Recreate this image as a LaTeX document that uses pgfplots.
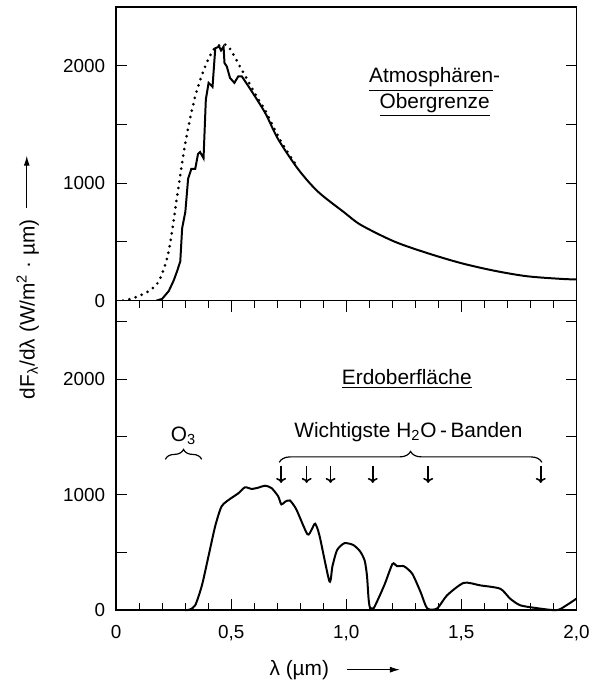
\documentclass[border=0pt]{standalone}
\usepackage{pgfplots}
\pgfplotsset{compat=1.18}
\usepackage{pgfplotstable}
\usepackage{fontspec}
\setmainfont{Liberation Sans}
\usetikzlibrary{arrows.meta,decorations.pathreplacing}

% Obergrenze, gemessen (steiler Teil)
\pgfplotstableread{
lam F
0.175 0
0.200 15
0.229 82
0.250 170
0.265 250
0.279 335
0.287 616
0.301 757
0.313 1038
0.327 1122
0.344 1122
0.356 1249
0.365 1265
0.380 1212
0.390 1713
0.402 1854
0.419 1820
0.431 2149
0.448 2163
0.456 2130
0.467 2163
0.471 2023
0.481 1994
0.495 1896
0.514 1854
0.531 1910
0.546 1910
0.575 1825
}\toasharp

% Obergrenze, glatter Auslauf
\pgfplotstableread{
lam F
0.575 1825
0.647 1601
0.704 1375
0.790 1122
0.877 928
0.992 750
1.064 644
1.208 504
1.352 405
1.496 321
1.640 256
1.784 208
1.928 186
2.000 180
}\toatail

% Schwarzer Koerper (gepunktet)
\pgfplotstableread{
lam F
0.030 0
0.080 25
0.143 82
0.186 166
0.222 363
0.243 588
0.272 981
0.304 1375
0.344 1741
0.387 1994
0.423 2135
0.452 2177
0.488 2163
0.546 1966
0.618 1713
0.647 1625
0.704 1400
0.750 1250
0.790 1135
}\blackbody

% Erdoberflaeche
\pgfplotstableread{
lam F
0.300 0
0.320 5
0.344 43
0.373 215
0.402 472
0.431 730
0.459 901
0.502 973
0.530 1010
0.560 1064
0.589 1050
0.620 1062
0.647 1078
0.675 1058
0.704 987
0.718 916
0.735 940
0.755 950
0.783 873
0.831 658
0.850 700
0.865 749
0.884 644
0.927 250
0.940 380
0.960 520
0.992 580
1.030 565
1.060 510
1.080 430
1.090 300
1.097 100
1.103 25
1.120 20
1.165 215
1.201 401
1.220 381
1.251 380
1.287 315
1.323 157
1.352 15
1.395 15
1.438 129
1.511 237
1.582 215
1.669 186
1.712 100
1.755 43
1.820 20
1.914 0
1.957 43
2.000 100
}\surface

\pgfplotsset{
  panel/.style={
    scale only axis, width=232pt, xmin=0, xmax=2,
    axis line style={line width=0.8pt},
    tick style={line width=0.5pt, black},
    major tick length=5.5pt, minor tick length=3.5pt,
    tick align=inside,
    ytick={0,500,...,2500}, yticklabels={0,,1000,,2000,},
    yticklabel pos=left,
    ticklabel style={font=\fontsize{9.5}{11}\selectfont},
    /pgf/number format/assume math mode=true,
    yticklabel style={xshift=-2pt},
  }
}

\begin{document}
\begin{tikzpicture}
\begin{axis}[panel, name=top, height=148pt, ymin=0, ymax=2500, xtick=\empty]
  \addplot[black, line width=1pt] table[x=lam, y=F] {\toasharp};
  \addplot[black, line width=1pt, smooth] table[x=lam, y=F] {\toatail};
  \addplot[black, line width=1.5pt, smooth, line cap=round, dash pattern=on 0pt off 3.3pt] table[x=lam, y=F] {\blackbody};
  \node[align=center, font=\fontsize{10.5}{11.7}\selectfont] at (axis cs:1.384,1774)
    {\underline{Atmosphären}-\\\underline{Obergrenze}};
\end{axis}

\begin{axis}[panel, at={(top.south west)}, anchor=north west, height=156pt,
  ymin=0, ymax=2680, clip=false,
  xtick={0,0.5,...,2}, xticklabels={0,{0,5},{1,0},{1,5},{2,0}},
  minor x tick num=4, xticklabel style={yshift=-4pt}]
  \addplot[black, line width=1pt, smooth, tension=0.4] table[x=lam, y=F] {\surface};

  \node[font=\fontsize{10.5}{12}\selectfont] at (axis cs:1.263,2004) {\underline{Erdoberfläche}};
  \node[font=\fontsize{10.5}{12}\selectfont] at (axis cs:1.270,1546) {Wichtigste H\textsubscript{2}O\,-\,Banden};
  \node[font=\fontsize{10.5}{12}\selectfont] at (axis cs:0.293,1512) {O\textsubscript{3}};
  \draw[line width=0.6pt, decorate, decoration={brace, amplitude=5.5pt}]
    (axis cs:0.709,1280) -- (axis cs:1.850,1280);
  \draw[line width=0.6pt, decorate, decoration={brace, amplitude=5pt}]
    (axis cs:0.214,1306) -- (axis cs:0.372,1306);
  \pgfplotsinvokeforeach{0.717,0.828,0.932,1.115,1.356,1.845}{
    \draw[line width=0.8pt, -{To[length=2.5pt,width=5pt]}] (axis cs:#1,1245) -- (axis cs:#1,1102);
  }

  % Achsenbeschriftungen
  \node[rotate=90, font=\fontsize{10.5}{12}\selectfont] at (axis cs:-0.384,2607)
    {dF\textsubscript{λ}/dλ (W/m\textsuperscript{2} · µm)};
  \draw[line width=0.5pt, -{Latex[length=5pt,width=3pt]}] (axis cs:-0.388,3479) -- (axis cs:-0.388,3934);
  \node[font=\fontsize{10.5}{12}\selectfont] at (axis cs:0.796,-515) {λ (µm)};
  \draw[line width=0.5pt, -{Latex[length=5pt,width=3pt]}] (axis cs:1.004,-515) -- (axis cs:1.233,-515);

  \path (axis cs:-0.5043,-610) rectangle (axis cs:2.0603,5283);
\end{axis}
\end{tikzpicture}
\end{document}
